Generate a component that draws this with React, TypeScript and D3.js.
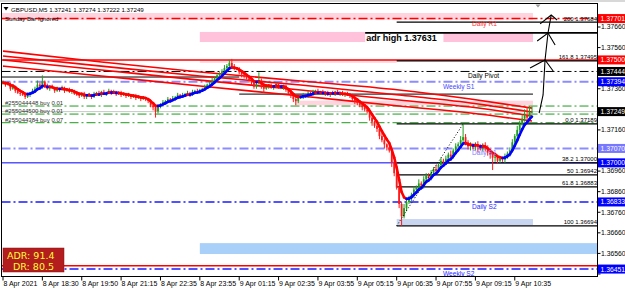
import React from "react";
import * as d3 from "d3";

// ---------- DATA ----------
// closes in pips relative to 1.37000 (M5 bars)
const firstOpen = 38.5;
const closes = [
  39, 38, 38.5, 36, 37, 35, 34, 33.5, 33,
  32, 33, 34, 35,
  36, 38, 37, 39.5,
  37.5, 36, 37, 36.5, 35, 36, 35.5, 36.5, 35, 35.5,
  34.5, 35, 33.5, 33, 32.5, 33.5, 32,
  32.5, 33, 32, 33.5, 34, 33, 34.5, 33.5, 34, 35, 34,
  34.5, 33.5, 34, 33, 33.5, 32.5, 33, 32, 32.5, 31.5, 32, 31, 31.5, 31,
  30, 28, 27, 25, 27.5,
  28.5, 29.5, 30, 31, 30.5, 31.5, 32, 33, 32.5,
  33, 33.5, 34, 33, 34.5, 35, 34.5, 35.5,
  36, 37, 38, 38.5, 40, 41, 42.5, 43, 44.5, 46, 47, 48.5,
  47,
  46, 45.5, 44, 43, 42, 41, 40,
  39, 37, 38.5, 40, 37.5, 36,
  37, 37.5, 36.5, 37, 38, 37, 36.5, 37.5,
  35.5, 34, 32.5, 31, 30,
  31.5, 32, 33, 32.5, 34, 33.5, 34.5, 35,
  34, 34.5, 33.5, 34, 33, 34, 33.5, 34.5, 33.5, 34, 33, 33.5, 33,
  32.5, 31, 30, 29, 28, 27, 26,
  25, 22, 20, 18, 16.5,
  13, 11, 9, 7.5, 6,
  0, -5, -12, -20, -26,
  -22, -19, -17, -15.5,
  -13, -12, -10, -11, -8, -6,
  -7, -5, -3, -4, -1, 1,
  0.5, 2, 4, 3, 6, 8,
  9, 11, 12.5, 10,
  8, 8.5, 7.5, 9, 8, 7, 8.5, 7.5,
  5, 4, 2.5, 3, 1, 2,
  1.5, 3, 4.5, 6,
  10, 13, 16, 19,
  21.5, 23, 22, 24.5, 24.9,
];
const wickHi = [
  1, 0.5, 1, 0.5, 1, 0.5, 0.5, 1, 0.5,
  0.5, 1, 0.5, 1,
  1, 2, 1, 3,
  0.5, 1, 0.5, 1, 0.5, 1, 0.5, 1, 0.5, 0.5,
  1, 0.5, 0.5, 1, 0.5, 0.5, 1,
  0.5, 1, 0.5, 1, 0.5, 1, 0.5, 1, 0.5, 1, 0.5,
  1, 0.5, 0.5, 1, 0.5, 0.5, 1, 0.5, 0.5, 1, 0.5, 0.5, 1, 0.5,
  0.5, 1, 0.5, 0.5, 1,
  0.5, 1, 0.5, 1, 0.5, 1, 0.5, 1, 0.5,
  1, 0.5, 1, 0.5, 1, 0.5, 1, 0.5,
  0.5, 1, 0.5, 1, 1.5, 1, 0.5, 1, 1, 1.5, 1, 1.5,
  2,
  1, 0.5, 1, 0.5, 1, 0.5, 1,
  0.5, 1, 1, 4, 1, 0.5,
  1, 0.5, 1, 0.5, 1, 0.5, 1, 0.5,
  0.5, 1, 0.5, 1, 0.5,
  1, 0.5, 1, 0.5, 1, 0.5, 1, 0.5,
  1, 0.5, 1, 0.5, 1, 0.5, 1, 0.5, 1, 0.5, 1, 0.5, 1,
  0.5, 1, 0.5, 1, 0.5, 1, 0.5,
  1, 1.5, 1, 0.5, 1,
  1, 1.5, 1, 0.5, 1,
  1.5, 1, 2, 1, 1,
  2, 1.5, 1, 1,
  1.5, 1, 2, 1, 1.5, 1,
  1, 1.5, 1, 2, 1, 1.5,
  1, 1.5, 1, 2, 1, 1.5,
  1, 2, 6.4, 1.5,
  1, 1.5, 1, 1, 1.5, 1, 1, 1.5,
  1, 1.5, 1, 1.5, 1, 1,
  1, 1.5, 1, 1.5,
  1.5, 1, 2, 1.5,
  2, 3, 4, 3, 2.5,
];
const wickLo = [
  0.5, 1, 0.5, 1, 0.5, 1, 0.5, 1, 0.5,
  1, 0.5, 1, 0.5,
  0.5, 1, 0.5, 1,
  1, 0.5, 1, 0.5, 1, 0.5, 1, 0.5, 1, 0.5,
  0.5, 1, 0.5, 0.5, 1, 0.5, 1,
  1, 0.5, 1, 0.5, 1, 0.5, 1, 0.5, 1, 0.5, 1,
  0.5, 1, 0.5, 1, 0.5, 1, 0.5, 1, 0.5, 1, 0.5, 1, 0.5, 1,
  1, 1, 1.5, 3, 1,
  1, 0.5, 1, 0.5, 1, 0.5, 1, 0.5, 1,
  0.5, 1, 0.5, 1, 0.5, 1, 0.5, 1,
  1, 0.5, 1, 0.5, 1, 0.5, 1, 0.5, 1, 0.5, 1, 0.5,
  1,
  1, 0.5, 1, 1.5, 1, 0.5, 1,
  1.5, 1, 1, 0.5, 1.5, 2,
  0.5, 1, 0.5, 1, 0.5, 1, 0.5, 1,
  1, 0.5, 1, 1.5, 2,
  1, 0.5, 1, 0.5, 1, 0.5, 1, 0.5,
  0.5, 1, 0.5, 1, 0.5, 1, 0.5, 1, 0.5, 1, 0.5, 1, 0.5,
  1, 1, 1.5, 1, 1, 1.5, 1,
  1, 1.5, 2, 1, 1.5,
  1.5, 1, 2, 1.5, 1,
  2, 1.5, 1, 2, 4.6,
  1, 1.5, 1, 1.5,
  1.5, 1, 2, 1, 1.5, 1,
  1, 1.5, 1, 2, 1, 1.5,
  1, 1.5, 1, 2, 1, 1.5,
  1, 1.5, 1, 1.5,
  1.5, 2, 1, 1.5, 3, 1, 1.5, 2,
  1.5, 2, 6, 2, 1.5, 1,
  1, 1.5, 1, 1.5,
  1, 1.5, 3, 1,
  1, 1.5, 1, 1.5, 0.5,
];

// long moving averages (pips vs 1.37000) sampled at bars
const longMaBars = [0, 40, 80, 121, 161, 190, 215];
const longMa1 = [54.3, 49.0, 44.1, 39.8, 35.4, 31.0, 26.6];
const longMa2 = [51.9, 47.0, 42.2, 37.8, 33.0, 29.1, 24.7];
const longMa3 = [50.0, 45.1, 40.2, 35.4, 30.5, 27.1, 22.8];
const longMa4 = [47.0, 42.2, 37.3, 32.5, 27.6, 24.2, 20.3];

const timeLabels = [
  "8 Apr 2021", "8 Apr 18:30", "8 Apr 19:50", "8 Apr 21:15", "8 Apr 22:35",
  "8 Apr 23:55", "9 Apr 01:15", "9 Apr 02:35", "9 Apr 03:55", "9 Apr 05:15",
  "9 Apr 06:35", "9 Apr 07:55", "9 Apr 09:15", "9 Apr 10:35",
];
const priceTicks = [1.3766, 1.3756, 1.3746, 1.3736, 1.3726, 1.3716, 1.3706, 1.3696, 1.3686, 1.3676, 1.3666, 1.3656, 1.3646];

// pivot / level lines
const levelNames = ["Daily R1", "Daily Pivot", "Weekly S1", "Daily S1", "Daily S2", "Weekly S2"];
const levelPrices = [1.37701, 1.37444, 1.37394, 1.3707, 1.3681, 1.36484];
const levelColors = ["#ff0000", "#000000", "#8c8cff", "#8c8cff", "#1a1aff", "#1a1aff"];
const levelTextColors = ["#ff3030", "#000000", "#4646ff", "#8080ff", "#2a2aff", "#2a2aff"];
const levelWidths = [1.5, 1, 2, 2, 1.5, 1.5];
const levelLabelX = [472, 468, 443, 472, 472, 443];

// fibonacci
const fibLabels = ["200", "161.8", "0.0", "38.2", "50", "61.8", "100"];
const fibPrices = [1.37684, 1.37495, 1.37189, 1.37, 1.36942, 1.36883, 1.36694];
const fibStartBar = 160;
const fibAnchor = [[160, 1.36694], [187, 1.37189]];

// orders
const orderLabels = ["#255044448 buy 0.01", "#255044500 buy 0.01", "#255044384 buy 0.07"];
const orderPrices = [1.37276, 1.37237, 1.37195];

// price boxes on the axis
const boxTexts = ["1.37701", "1.37500", "1.37444", "1.37394", "1.37249", "1.37070", "1.37000", "1.36833", "1.36451"];
const boxPrices = [1.37701, 1.375, 1.37444, 1.37394, 1.37249, 1.3707, 1.37, 1.3681, 1.36484];
const boxColors = ["#ff0000", "#ff0000", "#000000", "#0000ff", "#000000", "#7878ff", "#0000ff", "#0000ff", "#0000ff"];

// hand-drawn arrow (bar, price)
const arrowStem = [[217.9, 1.37242], [219.5, 1.3733], [220.3, 1.375], [221.5, 1.37631], [222.8, 1.37718]];
const arrowHeads = [
  [[214.2, 1.37461], [220.3, 1.375], [223.6, 1.37446]],
  [[217.1, 1.37592], [221.5, 1.37631], [224.4, 1.37573]],
  [[218.3, 1.37675], [222.8, 1.37718], [225.2, 1.37694]],
];

const adrText = ["ADR: 91.4", "DR: 80.5"];
const headerText = "GBPUSD,M5  1.37241 1.37274 1.37222 1.37249";

const FONT = "'Liberation Sans', Arial, sans-serif";
const DASH = "9,3,2,3";

export default function App() {
  const W = 625, H = 290;
  const L = 1.5, R = 597.5, T = 3.5, B = 276.5;
  const x = d3.scaleLinear().domain([0, 215]).range([3, 532]);
  const y = d3.scaleLinear().domain([1.3646, 1.3766]).range([274, 27]);
  const P = (p: number) => 1.37 + p / 10000;

  const candles = closes.map((c, i) => {
    const o = i === 0 ? firstOpen : closes[i - 1];
    return { i, o, c, h: Math.max(o, c) + wickHi[i], l: Math.min(o, c) - wickLo[i] };
  });

  // EMA trend line computed from closes
  const k = 2 / (5 + 1);
  const ema: number[] = [];
  closes.forEach((c, i) => ema.push(i === 0 ? c : ema[i - 1] + k * (c - ema[i - 1])));

  const longLine = d3.line<number>()
    .x((_, i) => x(longMaBars[i]))
    .y((v) => y(P(v)))
    .curve(d3.curveMonotoneX);

  const pxLine = d3.line<number[]>().x((d) => x(d[0])).y((d) => y(d[1]));

  const band = (b0: number, b1: number | null, p0: number, p1: number, fill: string, key: string) => {
    const x0 = b0 < 0 ? L : x(b0);
    const x1 = b1 === null ? R : x(b1);
    return <rect key={key} x={x0} y={y(p0)} width={x1 - x0} height={y(p1) - y(p0)} fill={fill} />;
  };

  // axis tick labels that are not covered by a price box
  const visibleTicks = priceTicks.filter((p) => boxPrices.every((b) => Math.abs(y(b) - y(p)) > 6.5));

  return (
    <svg width={W} height={H} style={{ position: "absolute", left: 0, top: 0, background: "#fff" }} fontFamily={FONT}>
      <defs>
        <clipPath id="plot"><rect x={L} y={T} width={R - L} height={B - T} /></clipPath>
      </defs>
      <rect x={0} y={0} width={W} height={H} fill="#fff" />
      <rect x={0} y={0} width={W} height={2} fill="#d8d8d8" />

      <g clipPath="url(#plot)">
        {/* bands */}
        {band(-1, 215.4, 1.37728, 1.37694, "#ffd4de", "b1")}
        {band(80, 215.4, 1.37636, 1.37587, "#ffc2da", "b2")}
        {band(80, 160, 1.375, 1.37485, "#ffdce4", "b3")}
        {band(118.7, 215.4, 1.37302, 1.3728, "#ffd4de", "b4")}
        {band(160, 215.4, 1.36727, 1.36698, "#c9d6f2", "b5")}
        {band(80, null, 1.3661, 1.36557, "#a9d0f8", "b6")}
        {band(147.2, 179, 1.37631, 1.37587, "#ffffff", "b7")}

        {/* round number red lines */}
        <line x1={L} x2={R} y1={y(1.375)} y2={y(1.375)} stroke="#ff0000" strokeWidth={1.5} />
        <line x1={L} x2={R} y1={y(1.365)} y2={y(1.365)} stroke="#ff0000" strokeWidth={1.5} />

        {/* black session lines */}
        <line x1={L} x2={x(96)} y1={y(1.37417)} y2={y(1.37417)} stroke="#000" strokeWidth={1} />
        <line x1={x(96)} x2={x(215.4)} y1={y(1.37334)} y2={y(1.37334)} stroke="#000" strokeWidth={1} />
        <line x1={L} x2={R} y1={y(1.37)} y2={y(1.37)} stroke="#0000ff" strokeWidth={1} />
        <line x1={L} x2={R} y1={y(1.37249)} y2={y(1.37249)} stroke="#c8c8c8" strokeWidth={1} />

        {/* orders */}
        {orderPrices.map((p, i) => (
          <g key={"o" + i}>
            <line x1={L} x2={R} y1={y(p)} y2={y(p)} stroke="#1e9a1e" strokeWidth={1} strokeDasharray={DASH} />
            <text x={5} y={y(p) - 1.2} fontSize={6} fill="#303030">{orderLabels[i]}</text>
          </g>
        ))}

        {/* pivot levels */}
        {levelPrices.map((p, i) => (
          <line key={"l" + i} x1={L} x2={R} y1={y(p)} y2={y(p)} stroke={levelColors[i]} strokeWidth={levelWidths[i]} strokeDasharray={DASH} />
        ))}

        {/* fib lines */}
        {fibPrices.map((p, i) => (
          <line key={"f" + i} x1={x(fibStartBar)} x2={R} y1={y(p)} y2={y(p)} stroke="#000" strokeWidth={1.2} />
        ))}
        <line x1={x(147.2)} x2={R} y1={y(1.37631)} y2={y(1.37631)} stroke="#000" strokeWidth={1.8} />

        {/* long MAs */}
        {[longMa1, longMa2, longMa3, longMa4].map((arr, i) => (
          <path key={"m" + i} d={longLine(arr) || ""} fill="none" stroke="#ff0000" strokeWidth={1.6} />
        ))}

        {/* candles */}
        {candles.map((d) => {
          const col = d.c >= d.o ? "#1c9e1c" : "#ff1a1a";
          const cx = x(d.i);
          const top = y(P(Math.max(d.o, d.c)));
          const bot = y(P(Math.min(d.o, d.c)));
          return (
            <g key={"c" + d.i}>
              <line x1={cx} x2={cx} y1={y(P(d.h))} y2={y(P(d.l))} stroke={col} strokeWidth={1} />
              <rect x={cx - 0.9} y={top} width={1.8} height={Math.max(0.8, bot - top)} fill={col} />
            </g>
          );
        })}

        {/* EMA trend segments */}
        {ema.slice(1).map((v, j) => {
          const i = j + 1;
          const col = v >= ema[i - 1] ? "#0000ff" : "#ff0000";
          return (
            <line key={"e" + i} x1={x(i - 1)} x2={x(i)} y1={y(P(ema[i - 1]))} y2={y(P(v))} stroke={col} strokeWidth={2.6} strokeLinecap="round" />
          );
        })}

        {/* fib dotted trend */}
        <path d={pxLine(fibAnchor) || ""} stroke="#000" strokeWidth={1} strokeDasharray="1,2" fill="none" />

        {/* level labels */}
        {levelPrices.map((p, i) => (
          <text key={"lt" + i} x={levelLabelX[i]} y={y(p) + 7} fontSize={6.6} fill={levelTextColors[i]}>{levelNames[i]}</text>
        ))}

        {/* fib labels */}
        {fibPrices.map((p, i) => (
          <text key={"ft" + i} x={R - 0.5} y={y(p) - 1.5} fontSize={6} textAnchor="end" fill="#000">
            {fibLabels[i] + " " + p.toFixed(5)}
          </text>
        ))}

        {/* adr high */}
        <text x={x(147.2) + 1} y={y(1.37631) + 8} fontSize={9} fontWeight="bold" fill="#000">adr high  1.37631</text>

        {/* hand-drawn arrow */}
        <path d={pxLine(arrowStem) || ""} stroke="#000" strokeWidth={1.1} fill="none" />
        {arrowHeads.map((hd, i) => (
          <path key={"ah" + i} d={pxLine(hd) || ""} stroke="#000" strokeWidth={1.1} fill="none" />
        ))}

        {/* header */}
        <path d="M3.5,7 L8.5,7 L6,10.5 Z" fill="#000" />
        <text x={11} y={12} fontSize={6.2} fill="#000">{headerText}</text>
        <text x={5} y={21} fontSize={6} fill="#000">Sunday Bar Ignored</text>
        <path d="M535.5,4.5 L540.5,4.5 L538,7.5 Z" fill="#999" />

        {/* ADR box */}
        <rect x={3} y={248} width={61} height={24} fill="#b31d1d" stroke="#8a1010" strokeWidth={0.5} />
        <text x={7} y={258.5} fontSize={9.5} fill="#ffff33" fontFamily="'DejaVu Sans', sans-serif">{adrText[0]}</text>
        <text x={13} y={269.5} fontSize={9.5} fill="#ffff33" fontFamily="'DejaVu Sans', sans-serif">{adrText[1]}</text>
      </g>

      {/* frame */}
      <rect x={L} y={T} width={R - L} height={B - T} fill="none" stroke="#000" strokeWidth={1} />

      {/* price axis */}
      {priceTicks.map((p) => (
        <line key={"ptk" + p} x1={R} x2={R + 3} y1={y(p)} y2={y(p)} stroke="#000" />
      ))}
      {visibleTicks.map((p) => (
        <text key={"pt" + p} x={R + 3.5} y={y(p) + 2.4} fontSize={6.8} fill="#000">{p.toFixed(5)}</text>
      ))}
      {boxPrices.map((p, i) => (
        <g key={"bx" + i}>
          <rect x={R + 0.5} y={y(p) - 4.5} width={W - R - 0.5} height={9} fill={boxColors[i]} />
          <text x={R + 3} y={y(p) + 2.5} fontSize={6.8} fill="#fff">{boxTexts[i]}</text>
        </g>
      ))}

      {/* time axis */}
      {timeLabels.map((t, i) => (
        <g key={"tl" + i}>
          <line x1={x(i * 16)} x2={x(i * 16)} y1={B} y2={B + 4} stroke="#000" />
          <text x={x(i * 16) + 0.5} y={286} fontSize={7} fill="#000">{t}</text>
        </g>
      ))}
    </svg>
  );
}
